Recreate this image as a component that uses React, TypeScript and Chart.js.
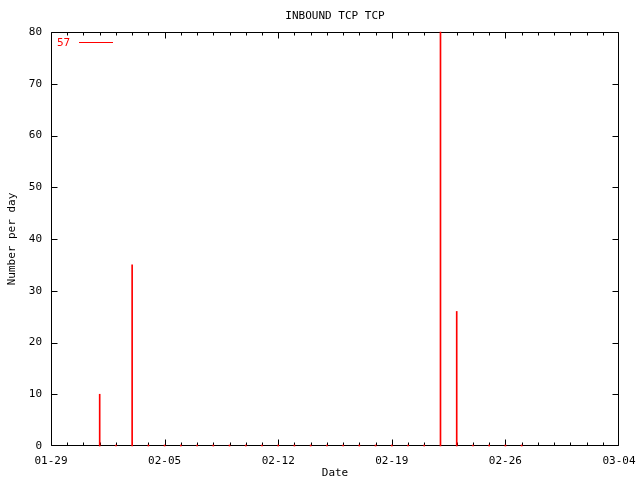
import { useEffect, useRef } from "react";
import { Chart, registerables } from "chart.js";

Chart.register(...registerables);

const chartTitle = "INBOUND TCP TCP";
const xTitle = "Date";
const yTitle = "Number per day";
const legendLabel = "57";

// x tick labels every 7 days starting at 01-29
const xTickLabels = ["01-29", "02-05", "02-12", "02-19", "02-26", "03-04"];
// days since 01-29 that carry a data point
const dayOffsets = [3, 4, 5, 6, 7, 8, 9, 10, 11, 12, 13, 14, 15, 16, 17, 18, 19, 20, 21, 22, 23, 24, 25, 26, 27, 28, 29];
const counts = [10, 0, 35, 0, 0, 0, 0, 0, 0, 0, 0, 0, 0, 0, 0, 0, 0, 0, 0, 0, 0, 80, 26, 0, 0, 0, 0];
const yMax = 80;
const yStep = 10;
const dayCount = 35;

const FONT = "'DejaVu Sans Mono', monospace";

const framePlugin = {
  id: "gnuframe",
  beforeDatasetsDraw(chart: any) {
    const { ctx, chartArea } = chart;
    const xs = chart.scales.x;
    const ys = chart.scales.y;
    const L = Math.round(chartArea.left) + 0.5;
    const R = Math.round(chartArea.right) - 0.5;
    const T = Math.round(chartArea.top) + 0.5;
    const B = Math.round(chartArea.bottom) - 0.5;
    ctx.save();
    ctx.strokeStyle = "#000";
    ctx.lineWidth = 1;
    ctx.beginPath();
    ctx.rect(L, T, R - L, B - T);
    // x ticks (daily minor, weekly major), bottom and top
    for (let d = 0; d <= dayCount; d++) {
      const px = Math.min(R, Math.max(L, Math.round(xs.getPixelForValue(d)) + 0.5));
      const len = d % 7 === 0 ? 6 : 3;
      ctx.moveTo(px, B);
      ctx.lineTo(px, B - len);
      ctx.moveTo(px, T);
      ctx.lineTo(px, T + len);
    }
    for (let v = 0; v <= yMax; v += yStep) {
      const py = Math.min(B, Math.max(T, Math.round(ys.getPixelForValue(v)) + 0.5));
      ctx.moveTo(L, py);
      ctx.lineTo(L + 6, py);
      ctx.moveTo(R, py);
      ctx.lineTo(R - 6, py);
    }
    ctx.stroke();

    // titles
    ctx.fillStyle = "#000";
    ctx.font = "11px " + FONT;
    ctx.textAlign = "center";
    ctx.textBaseline = "middle";
    const cx = (chartArea.left + chartArea.right) / 2;
    ctx.fillText(chartTitle, cx, 16);
    ctx.fillText(xTitle, cx, 473);
    ctx.save();
    ctx.translate(12, 239);
    ctx.rotate(-Math.PI / 2);
    ctx.fillText(yTitle, 0, 0);
    ctx.restore();

    // legend
    ctx.fillStyle = "#ff0000";
    ctx.strokeStyle = "#ff0000";
    ctx.textAlign = "left";
    ctx.fillText(legendLabel, 57, 43);
    ctx.beginPath();
    ctx.moveTo(79, 42.5);
    ctx.lineTo(113, 42.5);
    ctx.stroke();
    ctx.restore();
  },
};

export default function App() {
  const ref = useRef<HTMLCanvasElement | null>(null);
  useEffect(() => {
    if (!ref.current) return;
    const chart = new Chart(ref.current, {
      type: "bar",
      data: {
        datasets: [
          {
            data: dayOffsets.map((d, i) => ({ x: d, y: counts[i] })),
            backgroundColor: "#ff0000",
            borderWidth: 0,
            barThickness: 1,
            minBarLength: 1,
            clip: false as any,
          } as any,
        ],
      },
      options: {
        animation: false,
        responsive: false,
        layout: { padding: { top: 32, right: 21, left: 0, bottom: 0 } },
        plugins: { legend: { display: false }, tooltip: { enabled: false }, title: { display: false } },
        scales: {
          x: {
            type: "linear",
            min: 0,
            max: dayCount,
            offset: false,
            grid: { display: false },
            border: { display: false },
            afterFit: (s: any) => {
              s.height = 34;
              s.paddingLeft = 0;
              s.paddingRight = 0;
            },
            ticks: {
              stepSize: 7,
              autoSkip: false,
              maxRotation: 0,
              padding: 1,
              color: "#000",
              font: { family: FONT, size: 11 },
              callback: (v: any) => xTickLabels[Math.round(Number(v) / 7)] ?? "",
            },
          },
          y: {
            min: 0,
            max: yMax,
            grid: { display: false },
            border: { display: false },
            afterFit: (s: any) => {
              s.width = 51;
              s.paddingTop = 0;
              s.paddingBottom = 0;
            },
            ticks: {
              stepSize: yStep,
              padding: 1,
              color: "#000",
              font: { family: FONT, size: 11 },
            },
          },
        },
      },
      plugins: [framePlugin],
    });
    return () => chart.destroy();
  }, []);
  return (
    <div style={{ position: "fixed", left: 0, top: 0, width: 640, height: 480, background: "#fff" }}>
      <canvas ref={ref} width={640} height={480} />
    </div>
  );
}
